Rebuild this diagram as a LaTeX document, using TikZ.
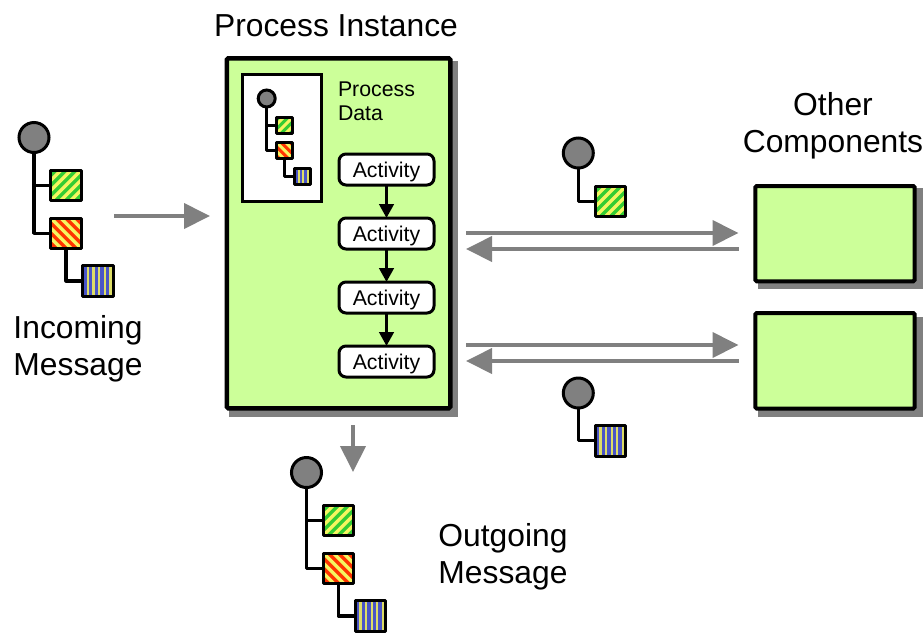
\documentclass[tikz,border=0pt]{standalone}
\usepackage{fontspec}
\setmainfont{Liberation Sans}
\usetikzlibrary{arrows.meta}
\definecolor{boxgreen}{HTML}{CCFF99}
\definecolor{sgreen}{HTML}{33CC33}
\definecolor{syellow}{HTML}{F5F560}
\definecolor{sred}{HTML}{FF3300}
\definecolor{sblue}{HTML}{4A55C8}
\definecolor{sgrey}{HTML}{808080}
\newcommand{\bigfont}{\fontsize{31.8}{37.5}\selectfont}
\newcommand{\smallfont}{\fontsize{21.3}{24}\selectfont}
\tikzset{
  x=1pt,y=-1pt,
  every node/.style={inner sep=0pt,outer sep=0pt},
  sqbase/.style={draw=black,rectangle,line width=#1,line join=round},
  greensq/.style={sqbase=3pt,minimum size=30.5pt,stripesg=10},
  redsq/.style={sqbase=3pt,minimum size=30.5pt,stripesr=10},
  bluesq/.style={sqbase=3pt,minimum size=30.5pt,stripesb=5.6},
  greensm/.style={sqbase=3pt,minimum size=16pt,stripesg=9},
  redsm/.style={sqbase=3pt,minimum size=16pt,stripesr=9},
  bluesm/.style={sqbase=3pt,minimum size=16pt,stripesb=4.6},
  stripesg/.style={path picture={
    \fill[sgreen] (path picture bounding box.south west) rectangle (path picture bounding box.north east);
    \foreach \k in {-5,...,5}
      \draw[syellow,line width=0.33*#1] ([shift={(\k*#1-30,30)}]path picture bounding box.center) -- ([shift={(\k*#1+30,-30)}]path picture bounding box.center);}},
  stripesr/.style={path picture={
    \fill[sred] (path picture bounding box.south west) rectangle (path picture bounding box.north east);
    \foreach \k in {-5,...,5}
      \draw[syellow,line width=0.33*#1] ([shift={(\k*#1-30,-30)}]path picture bounding box.center) -- ([shift={(\k*#1+30,30)}]path picture bounding box.center);}},
  stripesb/.style={path picture={
    \fill[sblue] (path picture bounding box.south west) rectangle (path picture bounding box.north east);
    \foreach \k in {-5,...,5}
      \draw[syellow!80!gray,line width=0.42*#1] ([shift={(\k*#1+1,-30)}]path picture bounding box.center) -- ([shift={(\k*#1+1,30)}]path picture bounding box.center);}},
  dot/.style={circle,draw=black,fill=sgrey,line width=3pt,minimum size=30pt},
  dotsm/.style={circle,draw=black,fill=sgrey,line width=3pt,minimum size=17pt},
  tree/.style={draw=black,line width=3.2pt,line join=round},
  treesm/.style={draw=black,line width=3pt,line join=round},
  flow/.style={draw=sgrey,line width=4pt,-{Triangle[length=26pt,width=25pt,fill=sgrey]}},
  shadowbox/.style={fill=sgrey},
  panel/.style={rectangle,draw=black,fill=boxgreen,rounded corners=1.5pt,anchor=north west},
  act/.style={rectangle,draw=black,fill=white,line width=3pt,rounded corners=7pt,minimum width=95pt,minimum height=31pt,font=\smallfont,text height=17pt,text depth=0.4pt},
  actflow/.style={draw=black,line width=3pt,-{Triangle[length=14pt,width=14.5pt]}},
  label/.style={font=\bigfont,align=center},
}
\begin{document}
\begin{tikzpicture}
\useasboundingbox (0,0) rectangle (924,633);
% shadows
\fill[shadowbox] (229,61) rectangle (458,417);
\fill[shadowbox] (758,188) rectangle (923,289.3);
\fill[shadowbox] (758,316.7) rectangle (923,416.7);
% main panel
\node[panel,line width=4.5pt,minimum width=223.5pt,minimum height=350pt] (main) at (226.75,58.25) {};
\node[rectangle,draw=black,fill=white,line width=3pt,minimum width=79pt,minimum height=126.5pt] (data) at (282.3,138) {};
\node[anchor=west,font=\smallfont,align=left] (pd) at (338,101) {Process\\Data};
\node[label] (title) at (336,26) {Process Instance};
% activities
\node[act] (a1) at (386.5,169.5) {Activity};
\node[act] (a2) at (386.5,233.5) {Activity};
\node[act] (a3) at (386.5,297.5) {Activity};
\node[act] (a4) at (386.5,361.5) {Activity};
\draw[actflow] (a1) -- (a2);
\draw[actflow] (a2) -- (a3);
\draw[actflow] (a3) -- (a4);
% inner message
\node[dotsm] (pc) at (266.7,98.5) {};
\node[greensm] (pg) at (284.5,125.5) {};
\node[redsm] (pr) at (284.5,150.3) {};
\node[bluesm] (pb) at (302.3,176.3) {};
\draw[treesm] (pc.south) |- (pg.west);
\draw[treesm] (pc.south) |- (pr.west);
\draw[treesm] (pr.south) |- (pb.west);
% incoming
\node[dot] (ic) at (34,137.5) {};
\node[greensq] (ig) at (66,185.3) {};
\node[redsq] (ir) at (66,233.3) {};
\node[bluesq] (ib) at (98.2,281) {};
\draw[tree] (ic.south) |- (ig.west);
\draw[tree] (ic.south) |- (ir.west);
\draw[tree] (ir.south) |- (ib.west);
\node[label] (il) at (78,349) {Incoming\\Message};
% outgoing
\node[dot] (oc) at (306.5,472.5) {};
\node[greensq] (og) at (338.5,520.3) {};
\node[redsq] (or) at (338.5,568.3) {};
\node[bluesq] (ob) at (370.7,616) {};
\draw[tree] (oc.south) |- (og.west);
\draw[tree] (oc.south) |- (or.west);
\draw[tree] (or.south) |- (ob.west);
\node[label] (ol) at (503,557) {Outgoing\\Message};
% other components
\node[panel,line width=4pt,minimum width=159.4pt,minimum height=95.3pt] (c1) at (755.3,186) {};
\node[panel,line width=4pt,minimum width=159.4pt,minimum height=95.7pt] (c2) at (755.3,313) {};
\node[label] (cl) at (833,126) {Other\\Components};
% exchanged messages
\node[dot] (m1c) at (578.3,153) {};
\node[greensq] (m1g) at (610.7,201.3) {};
\draw[tree] (m1c.south) |- (m1g.west);
\node[dot] (m2c) at (578.3,393) {};
\node[bluesq] (m2b) at (610.7,440.8) {};
\draw[tree] (m2c.south) |- (m2b.west);
% flow arrows
\coordinate (inA) at (114,216);
\coordinate (inB) at (210,216);
\draw[flow] (inA) -- (inB);
\coordinate (r1a) at (466,233);
\coordinate (r1b) at (738.5,233);
\coordinate (r2a) at (738.5,249);
\coordinate (r2b) at (466,249);
\coordinate (r3a) at (466,345);
\coordinate (r3b) at (738.5,345);
\coordinate (r4a) at (738.5,361);
\coordinate (r4b) at (466,361);
\draw[flow] (r1a) -- (r1b);
\draw[flow] (r2a) -- (r2b);
\draw[flow] (r3a) -- (r3b);
\draw[flow] (r4a) -- (r4b);
\coordinate (dA) at (353,425);
\coordinate (dB) at (353,472);
\draw[flow] (dA) -- (dB);
\end{tikzpicture}
\end{document}
